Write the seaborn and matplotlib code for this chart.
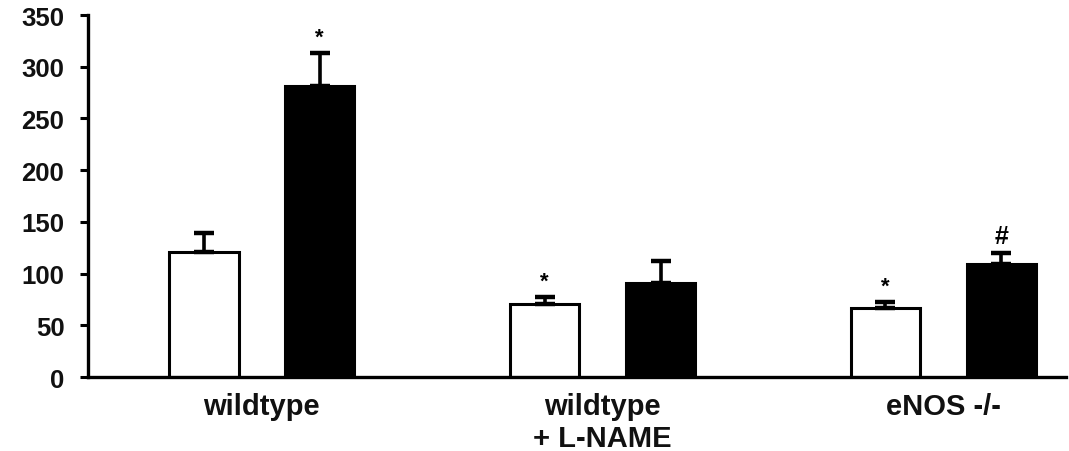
import matplotlib
matplotlib.use("Agg")
import matplotlib.pyplot as plt
from matplotlib.container import BarContainer
import seaborn as sns
import pandas as pd
import numpy as np

categories = ["wildtype", "wildtype\n+ L-NAME", "eNOS -/-"]
conditions = ["control", "treated"]
control_vals = [121, 71, 67]
treated_vals = [281, 91, 109]
control_err = [18, 6, 6]
treated_err = [32, 21, 11]
control_marks = ["", "*", "*"]
treated_marks = ["*", "", "#"]

sns.set_theme(style="white")
plt.rcParams['font.family'] = ['Liberation Sans', 'DejaVu Sans']
plt.rcParams['font.weight'] = 'bold'

df = pd.DataFrame({
    "group": categories * 2,
    "condition": [conditions[0]] * 3 + [conditions[1]] * 3,
    "value": control_vals + treated_vals,
})

fig = plt.figure(figsize=(10.69, 4.52), dpi=100)
ax = fig.add_axes([0.0823, 0.1637, 0.915, 0.8009])

sns.barplot(data=df, x="group", y="value", hue="condition", order=categories,
            hue_order=conditions, palette=["white", "black"], edgecolor="black",
            linewidth=2.2, width=0.68, gap=0.40, errorbar=None, legend=False, ax=ax)

errs = [control_err, treated_err]
vals = [control_vals, treated_vals]
marks = [control_marks, treated_marks]
bar_conts = [c for c in ax.containers if isinstance(c, BarContainer)]
for ci, cont in enumerate(bar_conts):
    for gi, bar in enumerate(list(cont.patches)):
        xc = bar.get_x() + bar.get_width() / 2
        v = vals[ci][gi]
        e = errs[ci][gi]
        ax.errorbar(xc, v, yerr=[[0], [e]], fmt="none", ecolor="black",
                    elinewidth=2.6, capsize=7, capthick=3.2, zorder=1)
        m = marks[ci][gi]
        if m == "*":
            ax.text(xc, v + e + 5, "*", ha="center", va="bottom",
                    fontsize=16, fontweight="bold", color="black")
        elif m == "#":
            ax.text(xc, v + e + 5, "#", ha="center", va="bottom",
                    fontsize=18, fontweight="bold", color="black")

ax.set_ylim(0, 350)
ax.set_xlim(-0.51, 2.36)
ax.set_yticks(np.arange(0, 351, 50))
ax.set_xlabel("")
ax.set_ylabel("")
ax.tick_params(axis="y", length=6, width=2.2, direction="out", left=True,
               labelsize=18.5, pad=11, colors="black")
ax.tick_params(axis="x", length=0, labelsize=21, pad=11, colors="black")
for lbl in ax.get_yticklabels() + ax.get_xticklabels():
    lbl.set_fontweight("bold")
    lbl.set_color("#111111")
for lbl in ax.get_xticklabels():
    lbl.set_linespacing(1.15)
for s in ["top", "right"]:
    ax.spines[s].set_visible(False)
for s in ["left", "bottom"]:
    ax.spines[s].set_linewidth(2.4)
    ax.spines[s].set_color("black")

fig.savefig("out.png", dpi=100)
